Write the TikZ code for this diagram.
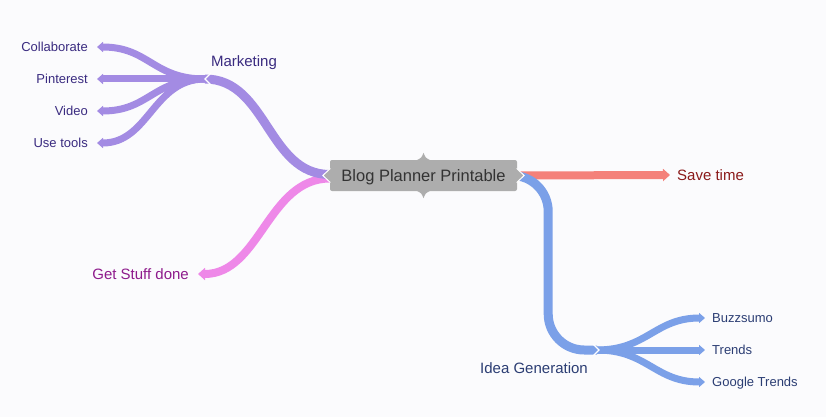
\documentclass[tikz,border=0pt]{standalone}
\usepackage{fontspec}
\setmainfont{Liberation Sans}
\usetikzlibrary{arrows.meta,calc}
\definecolor{bgc}{HTML}{FBFBFD}
\definecolor{boxgray}{HTML}{ADADAD}
\definecolor{purp}{HTML}{A38BE3}
\definecolor{pink}{HTML}{EE88E8}
\definecolor{redc}{HTML}{F4817A}
\definecolor{bluec}{HTML}{7BA0E8}
\definecolor{purptext}{HTML}{3A2B80}
\definecolor{pinktext}{HTML}{8E1B8C}
\definecolor{redtext}{HTML}{8B1A1A}
\definecolor{bluetext}{HTML}{2B3D73}
\pgfdeclarelayer{bglayer}
\pgfdeclarelayer{lines}
\pgfsetlayers{bglayer,lines,main}
\begin{document}
\begin{tikzpicture}[x=1pt,y=-1pt,
  leaftext/.style={font=\fontsize{13}{15}\selectfont, inner sep=0pt, text height=9.4pt, text depth=0pt},
  maintext/.style={font=\fontsize{15}{18}\selectfont, inner sep=0pt, text height=10.8pt, text depth=0pt},
  rootbox/.style={font=\fontsize{16.5}{19}\selectfont, fill=boxgray, text=black!80, rounded corners=2pt,
    minimum width=187pt, minimum height=31pt, inner sep=0pt, text height=11.8pt, text depth=0pt},
  mainbranch/.style={line width=9pt},
  mainarrow/.style={line width=8pt, -{Triangle[length=7pt,width=12pt]}},
  leafbranch/.style={line width=7pt, -{Triangle[length=6pt,width=10pt]}},
  notch/.style={draw=white, line width=1.2pt, line join=miter}
]
\begin{pgfonlayer}{bglayer}
\fill[bgc] (0,0) rectangle (826,417);
\end{pgfonlayer}
\useasboundingbox (0,0) rectangle (826,417);

% nodes
\node[rootbox] (root) at (423.5,175.5) {Blog Planner Printable};
\node[maintext, text=purptext] (mk) at (244,61) {Marketing};
\node[leaftext, text=purptext, anchor=east] (collab) at (88,47) {Collaborate};
\node[leaftext, text=purptext, anchor=east] (pint) at (88,79) {Pinterest};
\node[leaftext, text=purptext, anchor=east] (video) at (88,111) {Video};
\node[leaftext, text=purptext, anchor=east] (tools) at (88,143) {Use tools};
\node[maintext, text=pinktext, anchor=east] (gsd) at (189,274) {Get Stuff done};
\node[maintext, text=redtext, anchor=west] (save) at (677,175) {Save time};
\node[maintext, text=bluetext] (idea) at (534,368) {Idea Generation};
\node[leaftext, text=bluetext, anchor=west] (buzz) at (712,318) {Buzzsumo};
\node[leaftext, text=bluetext, anchor=west] (trends) at (712,350) {Trends};
\node[leaftext, text=bluetext, anchor=west] (gtrends) at (712,382) {Google Trends};

\coordinate (mkj) at (205,79);
\coordinate (igj) at (597,350);

\begin{pgfonlayer}{lines}
% pink
\draw[mainarrow, pink] ($(root.west)+(0,3)$) .. controls +(-62,0) and +(62,0) .. ([xshift=9pt]gsd.east);
% purple main
\draw[mainbranch, purp] ($(root.west)+(0,-1)$) .. controls +(-62,0) and +(62,0) .. (mkj);
% purple leaves
\foreach \t in {collab,pint,video,tools}
  \draw[leafbranch, purp] (mkj) .. controls +(-52,0) and +(52,0) .. ([xshift=9pt]\t.east);
% red
\draw[mainarrow, redc] (root.east) -- ([xshift=-7pt]save.west);
% blue main
\draw[mainbranch, bluec, rounded corners=36pt] (root.east) -- ++(31,0) |- (igj);
% blue leaves
\foreach \t in {buzz,trends,gtrends}
  \draw[leafbranch, bluec] (igj) .. controls +(50,0) and +(-50,0) .. ([xshift=-7pt]\t.west);
\end{pgfonlayer}

% notches at junctions
\draw[notch] ($(mkj)+(6,-6)$) -- (mkj) -- ($(mkj)+(6,6)$);
\draw[notch] ($(igj)+(-4,-6)$) -- ($(igj)+(2,0)$) -- ($(igj)+(-4,6)$);

% spikes of the root box
\fill[boxgray] ($(root.north)+(-7,0.5)$) .. controls ($(root.north)+(-2,-2)$) .. ($(root.north)+(0,-7)$)
  .. controls ($(root.north)+(2,-2)$) .. ($(root.north)+(7,0.5)$) -- cycle;
\fill[boxgray] ($(root.south)+(-7,-0.5)$) .. controls ($(root.south)+(-2,2)$) .. ($(root.south)+(0,7)$)
  .. controls ($(root.south)+(2,2)$) .. ($(root.south)+(7,-0.5)$) -- cycle;
\filldraw[boxgray, draw=white, line width=1pt] ($(root.west)+(0.5,-7)$) -- ($(root.west)+(-7,0)$) -- ($(root.west)+(0.5,7)$);
\filldraw[boxgray, draw=white, line width=1pt] ($(root.east)+(-0.5,-7)$) -- ($(root.east)+(7,0)$) -- ($(root.east)+(-0.5,7)$);
\end{tikzpicture}
\end{document}
